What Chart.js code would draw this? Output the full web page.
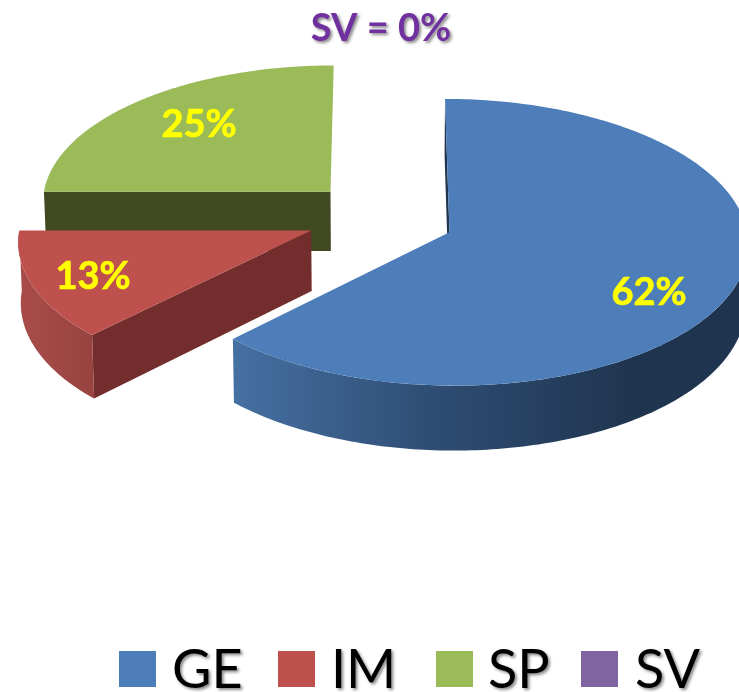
<!DOCTYPE html>
<html>
<head>
<meta charset="utf-8">
<style>html,body{margin:0;padding:0;background:#fff;overflow:hidden}canvas{display:block}</style>
<script src="https://cdn.jsdelivr.net/npm/chart.js@4/dist/chart.umd.js"></script>
</head>
<body>
<canvas id="c" width="739" height="692"></canvas>
<script>
const categories = ['GE', 'IM', 'SP', 'SV'];
const shares = [62.4, 12.6, 25, 0];
const topColors = ['#4D7EBA', '#BE504D', '#9BBB59', '#8064A2'];
const explode = [73, 73, 73, 0];
const radialWallColors = ['#1F344E', '#722D2C', '#3F4A22', '#4A3A60'];
const noteText = 'SV = 0%';

const KY = 0.476, PERSP = 0.068, DEPTH = 60, CONVERGE = 0.993;
const rimScale = [1.02, 1, 1, 1];
const nudge = [[1, 0], [-1.5, -2], [1, -3], [0, 0]];
const labelAt = [[649, 293], [93, 277], [199, 125]];
const legendAt = [[119, 172], [278, 331], [436, 488], [581, 635]];
const FONT = 'Lato, "Open Sans", sans-serif';

const pie3d = {
  id: 'pie3d',
  beforeDatasetsDraw(chart) {
    const ctx = chart.ctx;
    const meta = chart.getDatasetMeta(0);
    const order = [2, 1, 0];
    order.forEach(i => {
      const arc = meta.data[i];
      const { x: cx, y: cy, startAngle: a0, endAngle: a1, outerRadius } = arc;
      if (a1 - a0 <= 0) return;
      const R = outerRadius * rimScale[i];
      const mid = (a0 + a1) / 2;
      const d = arc.options.offset;
      const ax = d * Math.cos(mid), ay = d * Math.sin(mid);
      const proj = (X, Y) => {
        const w = 1 - PERSP * Y / outerRadius;
        return [cx + X / w + nudge[i][0], cy + KY * Y / w + nudge[i][1], w];
      };
      const low = p => [cx + (p[0] - cx) * CONVERGE, p[1] + DEPTH / p[2]];
      const rim = (s, e) => {
        const pts = [], n = Math.max(2, Math.ceil((e - s) * 60));
        for (let k = 0; k <= n; k++) {
          const t = s + (e - s) * k / n;
          pts.push(proj(ax + R * Math.cos(t), ay + R * Math.sin(t)));
        }
        return pts;
      };
      const fillPath = (pts, style) => {
        ctx.beginPath();
        pts.forEach((p, k) => k ? ctx.lineTo(p[0], p[1]) : ctx.moveTo(p[0], p[1]));
        ctx.closePath();
        ctx.fillStyle = style;
        ctx.fill();
      };
      const apex = proj(ax, ay);
      const startPt = proj(ax + R * Math.cos(a0), ay + R * Math.sin(a0));

      // radial wall on the leading edge
      fillPath([apex, startPt, low(startPt), low(apex)], radialWallColors[i]);

      // curved outer wall, only where the rim faces the viewer
      const s = Math.max(a0, 0), e = Math.min(a1, Math.PI);
      if (e > s) {
        const up = rim(s, e);
        const g = ctx.createLinearGradient(i === 0 ? 236 : 20, 0, i === 0 ? 640 : 95, 0);
        if (i === 0) {
          g.addColorStop(0, '#4570A2');
          g.addColorStop(0.5, '#2E4C72');
          g.addColorStop(1, '#1F344E');
        } else {
          g.addColorStop(0, '#A84C49');
          g.addColorStop(1, '#984341');
        }
        fillPath(up.concat(up.map(low).reverse()), g);
      }
      // top face
      fillPath([apex].concat(rim(a0, a1)), topColors[i]);
    });

    // percentage labels
    ctx.save();
    ctx.font = 'bold 38px ' + FONT;
    ctx.textAlign = 'center';
    ctx.textBaseline = 'middle';
    ctx.fillStyle = '#FFFF00';
    ctx.strokeStyle = '#FFFF00';
    ctx.lineWidth = 0.7;
    labelAt.forEach((p, i) => {
      const t = Math.round(shares[i]) + '%';
      ctx.fillText(t, p[0], p[1]);
      ctx.strokeText(t, p[0], p[1]);
    });
    ctx.restore();

    // note above the pie
    ctx.save();
    ctx.font = 'bold 38px ' + FONT;
    ctx.textAlign = 'center';
    ctx.textBaseline = 'middle';
    ctx.fillStyle = '#7030A0';
    ctx.shadowColor = 'rgba(0,0,0,0.45)';
    ctx.shadowBlur = 3;
    ctx.shadowOffsetX = 2;
    ctx.shadowOffsetY = 2;
    ctx.fillText(noteText, 381, 29);
    ctx.restore();

    // legend
    categories.forEach((name, i) => {
      ctx.fillStyle = topColors[i];
      ctx.fillRect(legendAt[i][0], 651, 37, 36);
      ctx.save();
      ctx.font = '54px ' + FONT;
      ctx.textAlign = 'left';
      ctx.textBaseline = 'alphabetic';
      ctx.fillStyle = '#000';
      ctx.shadowColor = 'rgba(0,0,0,0.45)';
      ctx.shadowBlur = 3;
      ctx.shadowOffsetX = 2;
      ctx.shadowOffsetY = 2;
      ctx.fillText(name, legendAt[i][1], 688);
      ctx.restore();
    });
    return false;
  }
};

new Chart(document.getElementById('c'), {
  type: 'pie',
  data: {
    labels: categories,
    datasets: [{ data: shares, backgroundColor: topColors, offset: explode, radius: 290, borderWidth: 0 }]
  },
  options: {
    responsive: false,
    animation: false,
    layout: { padding: { left: 22, bottom: 254 } },
    plugins: { legend: { display: false }, tooltip: { enabled: false } }
  },
  plugins: [pie3d]
});
</script>
</body>
</html>
